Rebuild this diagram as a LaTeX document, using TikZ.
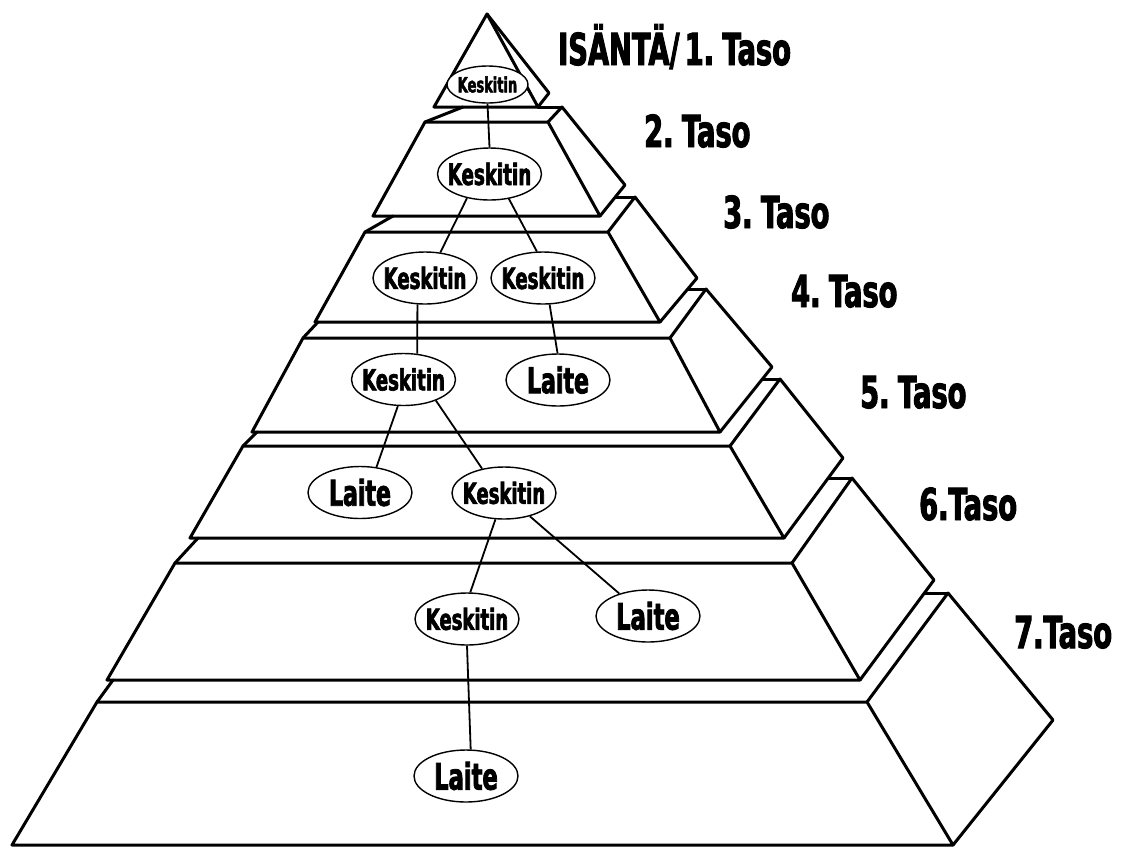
\documentclass[tikz,border=0pt]{standalone}
\usepackage{fontspec}
\usepackage{graphicx}
\usetikzlibrary{shapes.geometric}
\newfontfamily\impactfont[FakeStretch=0.62,FakeBold=2.2,WordSpace=0.55]{DejaVu Sans}
\newcommand\hubtext[2]{\makebox[0pt]{\fontsize{#1}{#1}\selectfont #2}}

\tikzset{
  pyr/.style={line width=3pt, line join=round, line cap=round},
  link/.style={line width=1.8pt},
  hub/.style={ellipse, draw, fill=white, line width=1.4pt, inner sep=0pt,
              minimum width=104pt, minimum height=52pt, font=\impactfont\bfseries},
  smallhub/.style={hub, minimum width=81pt, minimum height=37pt},
  tag/.style={anchor=base west, inner sep=0pt,
              font=\impactfont\bfseries\fontsize{44}{44}\selectfont},
}

\begin{document}
\begin{tikzpicture}[x=1pt,y=-1pt]
\useasboundingbox (0,0) rectangle (1123,847);
\fill[white] (0,0) rectangle (1123,847);

% top block
\draw[pyr] (487,14) -- (434,107) -- (538,107) -- cycle;
\draw[pyr] (487,14) -- (549,93) -- (538,107);

% level 2
\draw[pyr] (425,122) -- (548,122) -- (600,216) -- (373,216) -- cycle;
\draw[pyr] (548,122) -- (562,107) -- (625,185) -- (600,216);
\draw[pyr] (463,107) -- (425,122);
\draw[pyr] (538,107) -- (562,107);

% level 3
\draw[pyr] (365,232) -- (608,232) -- (660,322) -- (315,322) -- cycle;
\draw[pyr] (608,232) -- (635,197) -- (697,278) -- (660,322);
\draw[pyr] (393,216) -- (365,232);
\draw[pyr] (615,197) -- (635,197);

% level 4
\draw[pyr] (303,338) -- (670,338) -- (720,432) -- (252,432) -- cycle;
\draw[pyr] (670,338) -- (706,289) -- (772,367) -- (720,432);
\draw[pyr] (318,322) -- (303,338);
\draw[pyr] (688,289) -- (706,289);

% level 5
\draw[pyr] (243,446) -- (730,446) -- (784,538) -- (190,538) -- cycle;
\draw[pyr] (730,446) -- (780,379) -- (843,458) -- (784,538);
\draw[pyr] (257,432) -- (243,446);
\draw[pyr] (762,379) -- (780,379);

% level 6
\draw[pyr] (175,563) -- (792,563) -- (860,680) -- (107,680) -- cycle;
\draw[pyr] (792,563) -- (852,478) -- (934,580) -- (860,680);
\draw[pyr] (198,538) -- (175,563);
\draw[pyr] (828,478) -- (852,478);

% level 7
\draw[pyr] (97,702) -- (867,702) -- (953,845) -- (12,845) -- cycle;
\draw[pyr] (867,702) -- (948,593) -- (1053,720) -- (953,845);
\draw[pyr] (113,680) -- (97,702);
\draw[pyr] (924,593) -- (948,593);

% level labels
\node[tag] (t1) at (558,65)  {ISÄNTÄ/ 1. Taso};
\node[tag] (t2) at (644,147) {2. Taso};
\node[tag] (t3) at (723,228) {3. Taso};
\node[tag] (t4) at (791,307) {4. Taso};
\node[tag] (t5) at (860,408) {5. Taso};
\node[tag] (t6) at (919,520) {6.Taso};
\node[tag] (t7) at (1014,648) {7.Taso};

% hubs and devices
\node[smallhub] (k1)  at (487.5,84.5) {\hubtext{21}{Keskitin}};
\node[hub] (k2)  at (489.5,174) {\hubtext{29.5}{Keskitin}};
\node[hub] (k3a) at (425,278)   {\hubtext{29.2}{Keskitin}};
\node[hub] (k3b) at (543,278)   {\hubtext{29.2}{Keskitin}};
\node[hub] (k4)  at (403.5,379.5) {\hubtext{29.2}{Keskitin}};
\node[hub] (l4)  at (558,380)   {\hubtext{35.5}{Laite}};
\node[hub] (l5)  at (360,492.5) {\hubtext{35.5}{Laite}};
\node[hub] (k5)  at (504,493)   {\hubtext{29}{Keskitin}};
\node[hub] (k6)  at (467,619)   {\hubtext{29}{Keskitin}};
\node[hub] (l6)  at (648,616)   {\hubtext{36.5}{Laite}};
\node[hub] (l7)  at (466,776)   {\hubtext{36.5}{Laite}};

% links
\draw[link] (k1.south) -- (k2.north);
\draw[link] (k2.227) -- (k3a.59);
\draw[link] (k2.308) -- (k3b.103);
\draw[link] (k3a.254) -- (k4.62);
\draw[link] (k3b.284) -- (l4.91);
\draw[link] (k4.258) -- (l5.57);
\draw[link] (k4.327) -- (k5.132);
\draw[link] (k5.252) -- (k6.83);
\draw[link] (k5.318) -- (l6.142);
\draw[link] (k6.270) -- (l7.80);
\end{tikzpicture}
\end{document}
